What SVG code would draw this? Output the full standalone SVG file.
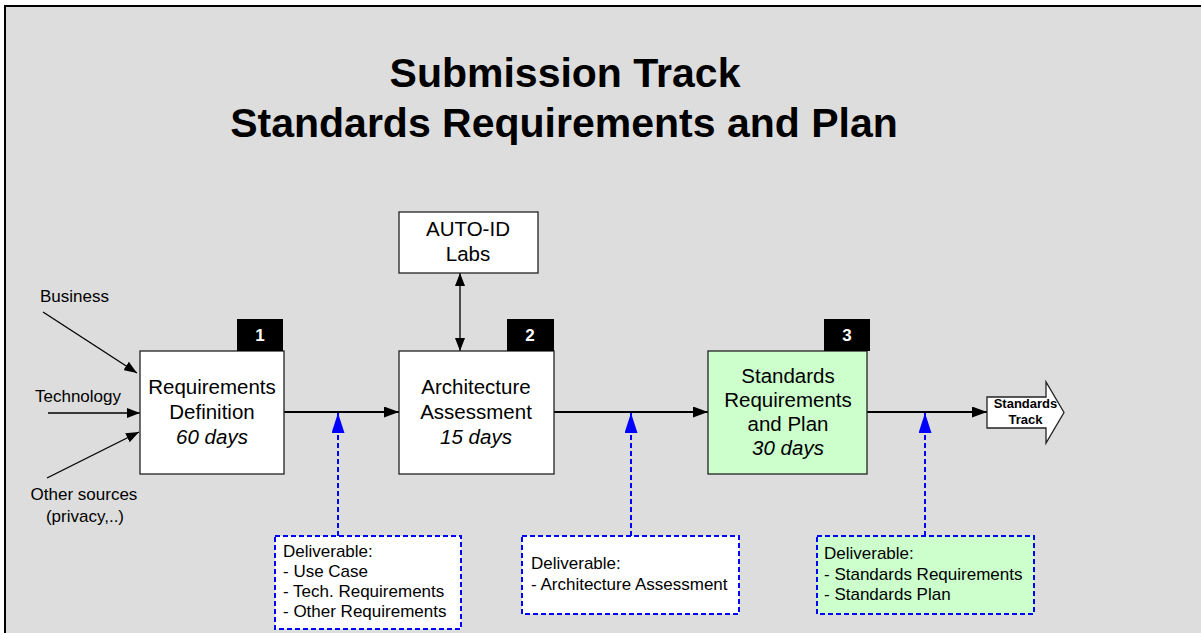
<svg xmlns="http://www.w3.org/2000/svg" width="1201" height="633" viewBox="0 0 1201 633">
<style>
text{font-family:"Liberation Sans",Arial,sans-serif;fill:#000}
.title{font-size:41px;font-weight:bold;text-anchor:middle}
.box{fill:#fff;stroke:#222;stroke-width:1.3}
.lbl{font-size:20.5px;text-anchor:middle}
.it{font-style:italic}
.badge{fill:#000}
.btxt{font-size:17px;font-weight:bold;fill:#fff;text-anchor:middle}
.sm{font-size:17px}
.smc{font-size:17px;text-anchor:middle}
.del{stroke:#0000ff;stroke-width:2;stroke-dasharray:5,3;fill:#fff}
.green{fill:#ccffcc}
.conn{stroke:#000;stroke-width:2;fill:none}
.thin{stroke:#000;stroke-width:1.3;fill:none}
.blue{stroke:#0000ff;stroke-width:2;stroke-dasharray:5,3;fill:none}
</style>
<defs>
<marker id="arr" markerUnits="userSpaceOnUse" markerWidth="15" markerHeight="11" refX="15" refY="5.5" orient="auto-start-reverse"><path d="M0,0 L15,5.5 L0,11 z" fill="#000"/></marker>
<marker id="arrs" markerUnits="userSpaceOnUse" markerWidth="13" markerHeight="10" refX="13" refY="5" orient="auto-start-reverse"><path d="M0,0 L13,5 L0,10 z" fill="#000"/></marker>
<marker id="barr" markerUnits="userSpaceOnUse" markerWidth="20" markerHeight="13" refX="20" refY="6.5" orient="auto"><path d="M0,0 L20,6.5 L0,13 z" fill="#0000ff"/></marker>
</defs>
<rect x="5" y="6" width="1210" height="640" fill="#dddddd" stroke="#000" stroke-width="2"/>
<g id="title">
<text class="title" x="565" y="87">Submission Track</text>
<text class="title" x="564" y="137">Standards Requirements and Plan</text>
</g>
<g id="connectors">
<line class="thin" x1="43" y1="312" x2="137" y2="373" marker-end="url(#arrs)"/>
<line class="thin" x1="48" y1="413" x2="140" y2="413" marker-end="url(#arrs)"/>
<line class="thin" x1="47" y1="478" x2="139" y2="432" marker-end="url(#arrs)"/>
<line class="conn" x1="284" y1="412" x2="399" y2="412" marker-end="url(#arr)"/>
<line class="conn" x1="554" y1="412" x2="708" y2="412" marker-end="url(#arr)"/>
<line class="conn" x1="867" y1="412" x2="987" y2="412" marker-end="url(#arr)"/>
<line class="thin" x1="460" y1="273" x2="460" y2="351" marker-start="url(#arrs)" marker-end="url(#arrs)"/>
<line class="blue" x1="338" y1="536" x2="338" y2="413" marker-end="url(#barr)"/>
<line class="blue" x1="631" y1="536" x2="631" y2="413" marker-end="url(#barr)"/>
<line class="blue" x1="925" y1="536" x2="925" y2="413" marker-end="url(#barr)"/>
</g>
<g id="inputs">
<text class="sm" x="40" y="302">Business</text>
<text class="sm" x="35" y="402">Technology</text>
<text class="smc" x="84" y="500">Other sources</text>
<text class="smc" x="85" y="522">(privacy,..)</text>
</g>
<g id="node1">
<rect class="box" x="140" y="351" width="144" height="123"/>
<rect class="badge" x="237" y="319" width="46" height="32"/>
<text class="btxt" x="260" y="341">1</text>
<text class="lbl" x="212" y="394">Requirements</text>
<text class="lbl" x="212" y="419">Definition</text>
<text class="lbl it" x="212" y="444">60 days</text>
</g>
<g id="node2">
<rect class="box" x="399" y="351" width="155" height="123"/>
<rect class="badge" x="507" y="319" width="47" height="32"/>
<text class="btxt" x="530" y="341">2</text>
<text class="lbl" x="476" y="394">Architecture</text>
<text class="lbl" x="476" y="419">Assessment</text>
<text class="lbl it" x="476" y="444">15 days</text>
</g>
<g id="autoid">
<rect class="box" x="399" y="212" width="139" height="61"/>
<text class="lbl" x="468" y="236">AUTO-ID</text>
<text class="lbl" x="468" y="261">Labs</text>
</g>
<g id="node3">
<rect class="box green" x="708" y="351" width="159" height="123"/>
<rect class="badge" x="824" y="319" width="46" height="32"/>
<text class="btxt" x="847" y="341">3</text>
<text class="lbl" x="788" y="383">Standards</text>
<text class="lbl" x="788" y="407">Requirements</text>
<text class="lbl" x="788" y="431">and Plan</text>
<text class="lbl it" x="788" y="455">30 days</text>
</g>
<g id="track">
<polygon points="987,397 1046,397 1046,382 1064,412.5 1046,443 1046,428 987,428" fill="#fff" stroke="#222" stroke-width="1.3"/>
<text x="1025.5" y="408" font-size="13" font-weight="bold" text-anchor="middle">Standards</text>
<text x="1025.5" y="424" font-size="13" font-weight="bold" text-anchor="middle">Track</text>
</g>
<g id="del1">
<rect class="del" x="275" y="536" width="186" height="93"/>
<text class="sm" x="283" y="557">Deliverable:</text>
<text class="sm" x="283" y="577">- Use Case</text>
<text class="sm" x="283" y="597">- Tech. Requirements</text>
<text class="sm" x="283" y="617">- Other Requirements</text>
</g>
<g id="del2">
<rect class="del" x="522" y="536" width="217" height="78"/>
<text class="sm" x="531" y="569">Deliverable:</text>
<text class="sm" x="531" y="590">- Architecture Assessment</text>
</g>
<g id="del3">
<rect class="del green" x="817" y="536" width="217" height="78"/>
<text class="sm" x="824" y="559">Deliverable:</text>
<text class="sm" x="824" y="580">- Standards Requirements</text>
<text class="sm" x="824" y="600">- Standards Plan</text>
</g>
</svg>
